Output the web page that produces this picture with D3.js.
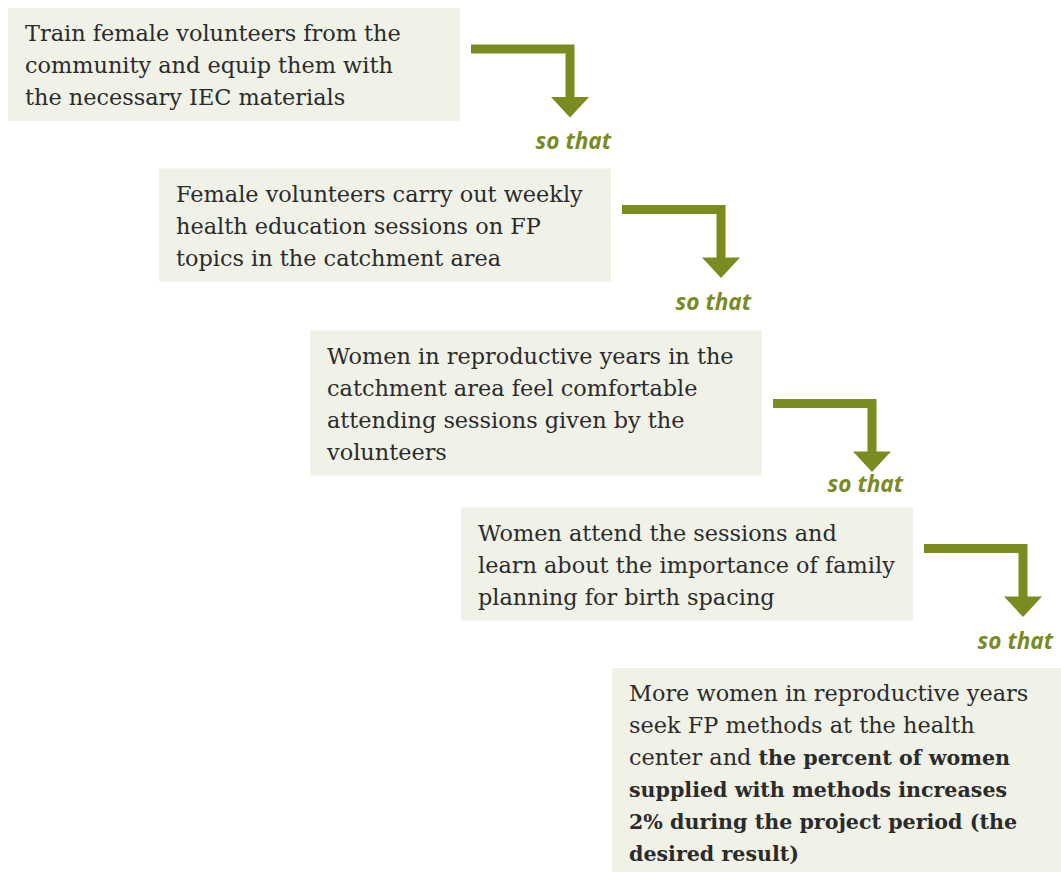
<!DOCTYPE html>
<html>
<head>
<meta charset="utf-8">
<script src="https://cdn.jsdelivr.net/npm/d3@7"></script>
<style>
  body { margin: 0; background: #fff; }
  svg { display: block; }
</style>
</head>
<body>
<div class="chart"></div>
<script>
// step texts, one array of lines per box ("*" toggles bold)
const step1 = ["Train female volunteers from the", "community and equip them with", "the necessary IEC materials"]
const step2 = ["Female volunteers carry out weekly", "health education sessions on FP", "topics in the catchment area"]
const step3 = ["Women in reproductive years in the", "catchment area feel comfortable", "attending sessions given by the", "volunteers"]
const step4 = ["Women attend the sessions and", "learn about the importance of family", "planning for birth spacing"]
const step5 = ["More women in reproductive years", "seek FP methods at the health", "center and *the percent of women*", "*supplied with methods increases*", "*2% during the project period (the*", "*desired result)*"]
const steps = [step1, step2, step3, step4, step5]
const linkLabel = "so that"

const width = 1061, height = 872
const green = "#7a8b1f", boxFill = "#f0f2e8", ink = "#2b2b2b"

// layout
const x0 = 8, stepX = 151, boxW = 452, top0 = 8
const gaps = [47.5, 49, 32, 47.5]
const padX = 17, firstBase = 33, lineH = 32, padBottom = 16
const soThatDx = [41, 30, 31, 30], soThatDy = [31, 32, 20, 32]

const boxes = []
let yCursor = top0
steps.forEach((lines, i) => {
    const h = firstBase + (lines.length - 1) * lineH + padBottom
    boxes.push({lines, x: x0 + i * stepX, y: yCursor, h})
    yCursor += h + (gaps[i] || 0)
})

const svg = d3.select('.chart').append('svg')
    .attr("width", width)
    .attr("height", height)

const g = svg.selectAll("g.step")
    .data(boxes)
    .join("g")
    .attr("class", "step")
    .attr("transform", d => `translate(${d.x},${d.y})`)

g.append("rect")
    .attr("width", boxW)
    .attr("height", d => d.h)
    .attr("fill", boxFill)

const text = g.append("text")
    .attr("font-family", "'DejaVu Serif', serif")
    .attr("font-size", 22.4)
    .attr("fill", ink)

text.selectAll("tspan.line")
    .data(d => d.lines)
    .join("tspan")
    .attr("class", "line")
    .attr("x", padX)
    .attr("y", (d, i) => firstBase + i * lineH)
    .each(function(line) {
        const parts = line.split("*")
        const sel = d3.select(this)
        parts.forEach((p, j) => {
            if (!p) return
            const t = sel.append("tspan").text(p)
            // bold DejaVu runs wide, so it is set a touch smaller
            if (j % 2) t.attr("font-weight", "bold").attr("font-size", 20.6)
        })
    })

// ARROWS
const links = boxes.slice(0, -1).map((b, i) => {
    const right = b.x + boxW, bottom = b.y + b.h
    return {
        x1: right + 11, y: bottom - 72,
        sx: right + 110, headTop: bottom - 24, tip: bottom - 3.5,
        lx: right + 110 + soThatDx[i], ly: bottom - 3.5 + soThatDy[i]
    }
})

const arrows = svg.append("g")
    .selectAll("g")
    .data(links)
    .join("g")

arrows.append("path")
    .attr("d", d => `M${d.x1},${d.y}H${d.sx}V${d.headTop + 1}`)
    .attr("fill", "none")
    .attr("stroke", green)
    .attr("stroke-width", 9)
    .attr("stroke-linejoin", "miter")

arrows.append("path")
    .attr("d", d => `M${d.sx - 19},${d.headTop}L${d.sx + 19},${d.headTop}L${d.sx},${d.tip}Z`)
    .attr("fill", green)

arrows.append("text")
    .attr("x", d => d.lx)
    .attr("y", d => d.ly)
    .attr("text-anchor", "end")
    .attr("font-family", "'Open Sans', sans-serif")
    .attr("font-style", "italic")
    .attr("font-weight", "bold")
    .attr("font-size", 22.6)
    .attr("fill", green)
    .text(linkLabel)
</script>
</body>
</html>
